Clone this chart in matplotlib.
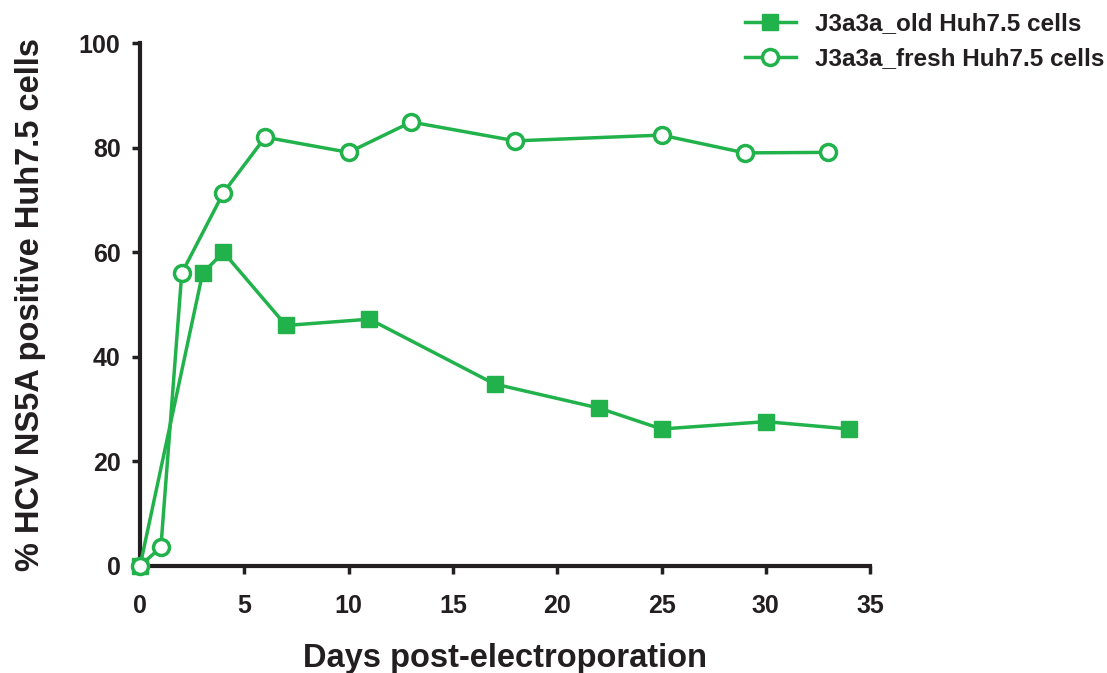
import matplotlib.pyplot as plt

plt.rcParams["font.family"] = ["Liberation Sans", "DejaVu Sans"]
plt.rcParams["font.weight"] = "bold"

GREEN = "#22b24c"
DARK = "#231f20"

old_days = [0, 3, 4, 7, 11, 17, 22, 25, 30, 34]
old_pct = [0, 56, 60, 46, 47.2, 34.8, 30.2, 26.2, 27.6, 26.2]

fresh_days = [0, 1, 2, 4, 6, 10, 13, 18, 25, 29, 33]
fresh_pct = [0, 3.6, 56, 71.4, 82, 79.1, 84.9, 81.3, 82.4, 79, 79.1]

x_ticks = [0, 5, 10, 15, 20, 25, 30, 35]
y_ticks = [0, 20, 40, 60, 80, 100]

fig = plt.figure(figsize=(11.07, 6.73), dpi=100)
ax = fig.add_axes([0.1265, 0.159, 0.6595, 0.777])

ax.plot(old_days, old_pct, color=GREEN, lw=2.5, marker="s", ms=12,
        mfc=GREEN, mec=GREEN, clip_on=False, zorder=3,
        label="J3a3a_old Huh7.5 cells")
ax.plot(fresh_days, fresh_pct, color=GREEN, lw=2.5, marker="o", ms=11.5,
        mfc="white", mec=GREEN, mew=2.5, clip_on=False, zorder=4,
        label="J3a3a_fresh Huh7.5 cells")

ax.set_xlim(0, 35)
ax.set_ylim(0, 100)
ax.set_xticks(x_ticks)
ax.set_yticks(y_ticks)
ax.tick_params(direction="out", length=6, width=2.5, labelsize=18, color=DARK,
               labelcolor=DARK)
ax.tick_params(axis="x", pad=14)
ax.tick_params(axis="y", pad=8)
for side in ("top", "right"):
    ax.spines[side].set_visible(False)
for side in ("left", "bottom"):
    ax.spines[side].set_linewidth(3)
    ax.spines[side].set_color(DARK)

ax.set_xlabel("Days post-electroporation", fontsize=23.5, fontweight="bold",
              labelpad=18, color=DARK)
ax.set_ylabel("% HCV NS5A positive Huh7.5 cells", fontsize=23.5, fontweight="bold",
              labelpad=24, color=DARK)

leg = fig.legend(loc="upper right", bbox_to_anchor=(1.013, 1.007), frameon=False,
                 fontsize=17.5, handlelength=2.1, borderaxespad=0.3,
                 labelspacing=0.5, handletextpad=0.8)
for t in leg.get_texts():
    t.set_color(DARK)

fig.savefig("out.png", dpi=100)
